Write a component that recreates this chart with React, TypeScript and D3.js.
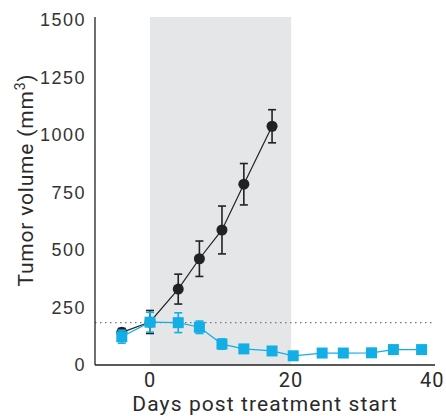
import React, { useEffect, useRef } from 'react';
import * as d3 from 'd3';

// control group (black circles)
const controlDays = [-4, 0, 4, 7, 10.2, 13.3, 17.3];
const controlVolume = [142, 187, 330, 462, 587, 786, 1038];
const controlErr = [17, 50, 65, 77, 104, 90, 72];

// treated group (blue squares)
const treatedDays = [-4, 0, 4, 7, 10.2, 13.3, 17.3, 20.3, 24.4, 27.4, 31.4, 34.5, 38.5];
const treatedVolume = [123, 186, 184, 164, 91, 70, 61, 40, 52, 52, 53, 67, 67];
const treatedErr = [28, 43, 43, 27, 22, 0, 0, 0, 0, 0, 0, 0, 0];

const treatmentWindow = [0, 20];
const baseline = 184;
const xTicks = [0, 20, 40];
const yTicks = [0, 250, 500, 750, 1000, 1250, 1500];

const W = 446;
const H = 416;

export default function App() {
  const ref = useRef<SVGSVGElement>(null);

  useEffect(() => {
    if (!ref.current) return;
    const svg = d3.select(ref.current);
    svg.selectAll('*').remove();

    const x = d3.scaleLinear().domain([-7.8, 40.4]).range([95, 435]);
    const y = d3.scaleLinear().domain([0, 1500]).range([365, 20]);

    // treatment shading
    svg.append('rect')
      .attr('x', x(treatmentWindow[0]))
      .attr('y', 17)
      .attr('width', x(treatmentWindow[1]) - x(treatmentWindow[0]))
      .attr('height', y(0) - 17)
      .attr('fill', '#e5e6e8');

    // baseline dotted
    svg.append('line')
      .attr('x1', x(-7.8)).attr('x2', x(40.4))
      .attr('y1', y(baseline)).attr('y2', y(baseline))
      .attr('stroke', '#777').attr('stroke-width', 1.3)
      .attr('stroke-dasharray', '1.5,3.5');

    // axes
    svg.append('line')
      .attr('x1', 95).attr('x2', 95).attr('y1', 17).attr('y2', y(0))
      .attr('stroke', '#222').attr('stroke-width', 1.3);
    svg.append('line')
      .attr('x1', 95).attr('x2', x(40.4)).attr('y1', y(0)).attr('y2', y(0))
      .attr('stroke', '#222').attr('stroke-width', 1.3);

    svg.selectAll('.ytick')
      .data(yTicks)
      .enter()
      .append('text')
      .attr('x', 86)
      .attr('y', d => y(d))
      .attr('dy', '0.35em')
      .attr('text-anchor', 'end')
      .attr('font-family', 'Liberation Sans, Arial, sans-serif')
      .attr('font-size', 18)
      .attr('letter-spacing', 1.5)
      .attr('fill', '#333')
      .text(d => d);

    svg.selectAll('.xtick')
      .data(xTicks)
      .enter()
      .append('text')
      .attr('x', d => x(d))
      .attr('y', 387)
      .attr('text-anchor', 'middle')
      .attr('font-family', 'Roboto, sans-serif')
      .attr('font-size', 20)
      .attr('letter-spacing', 1)
      .attr('fill', '#2a2a2a')
      .text(d => d);

    svg.append('text')
      .attr('x', 265)
      .attr('y', 411)
      .attr('text-anchor', 'middle')
      .attr('font-family', 'Roboto, sans-serif')
      .attr('font-size', 21)
      .attr('letter-spacing', 1.1)
      .attr('fill', '#2a2a2a')
      .text('Days post treatment start');

    const yl = svg.append('text')
      .attr('transform', `translate(33,180) rotate(-90)`)
      .attr('text-anchor', 'middle')
      .attr('font-family', 'Roboto, sans-serif')
      .attr('font-size', 21)
      .attr('letter-spacing', 0.8)
      .attr('fill', '#2a2a2a');
    yl.append('tspan').text('Tumor volume (mm');
    yl.append('tspan').attr('font-size', 14).attr('dy', -8).text('3');
    yl.append('tspan').attr('dy', 8).text(')');

    const drawSeries = (
      days: number[], vals: number[], errs: number[], color: string, shape: 'circle' | 'square'
    ) => {
      const pts = days.map((d, i) => ({ d, v: vals[i], e: errs[i] }));
      const line = d3.line<{ d: number; v: number }>().x(p => x(p.d)).y(p => y(p.v));
      svg.append('path')
        .datum(pts)
        .attr('d', line)
        .attr('fill', 'none')
        .attr('stroke', color)
        .attr('stroke-width', 1.2);

      const eb = svg.append('g');
      pts.filter(p => p.e > 0).forEach(p => {
        const cx = x(p.d);
        eb.append('line').attr('x1', cx).attr('x2', cx)
          .attr('y1', y(p.v - p.e)).attr('y2', y(p.v + p.e))
          .attr('stroke', color).attr('stroke-width', 1.6);
        [p.v - p.e, p.v + p.e].forEach(v => {
          eb.append('line').attr('x1', cx - 4).attr('x2', cx + 4)
            .attr('y1', y(v)).attr('y2', y(v))
            .attr('stroke', color).attr('stroke-width', 1.6);
        });
      });

      if (shape === 'circle') {
        svg.append('g').selectAll('circle')
          .data(pts).enter().append('circle')
          .attr('cx', p => x(p.d)).attr('cy', p => y(p.v))
          .attr('r', 5.5).attr('fill', color);
      } else {
        svg.append('g').selectAll('rect')
          .data(pts).enter().append('rect')
          .attr('x', p => x(p.d) - 5.5).attr('y', p => y(p.v) - 5.5)
          .attr('width', 11).attr('height', 11).attr('fill', color);
      }
    };

    drawSeries(controlDays, controlVolume, controlErr, '#222222', 'circle');
    drawSeries(treatedDays, treatedVolume, treatedErr, '#14aee6', 'square');
  }, []);

  return (
    <svg
      ref={ref}
      width={W}
      height={H}
      style={{ position: 'absolute', left: 0, top: 0, background: '#fff' }}
    />
  );
}
